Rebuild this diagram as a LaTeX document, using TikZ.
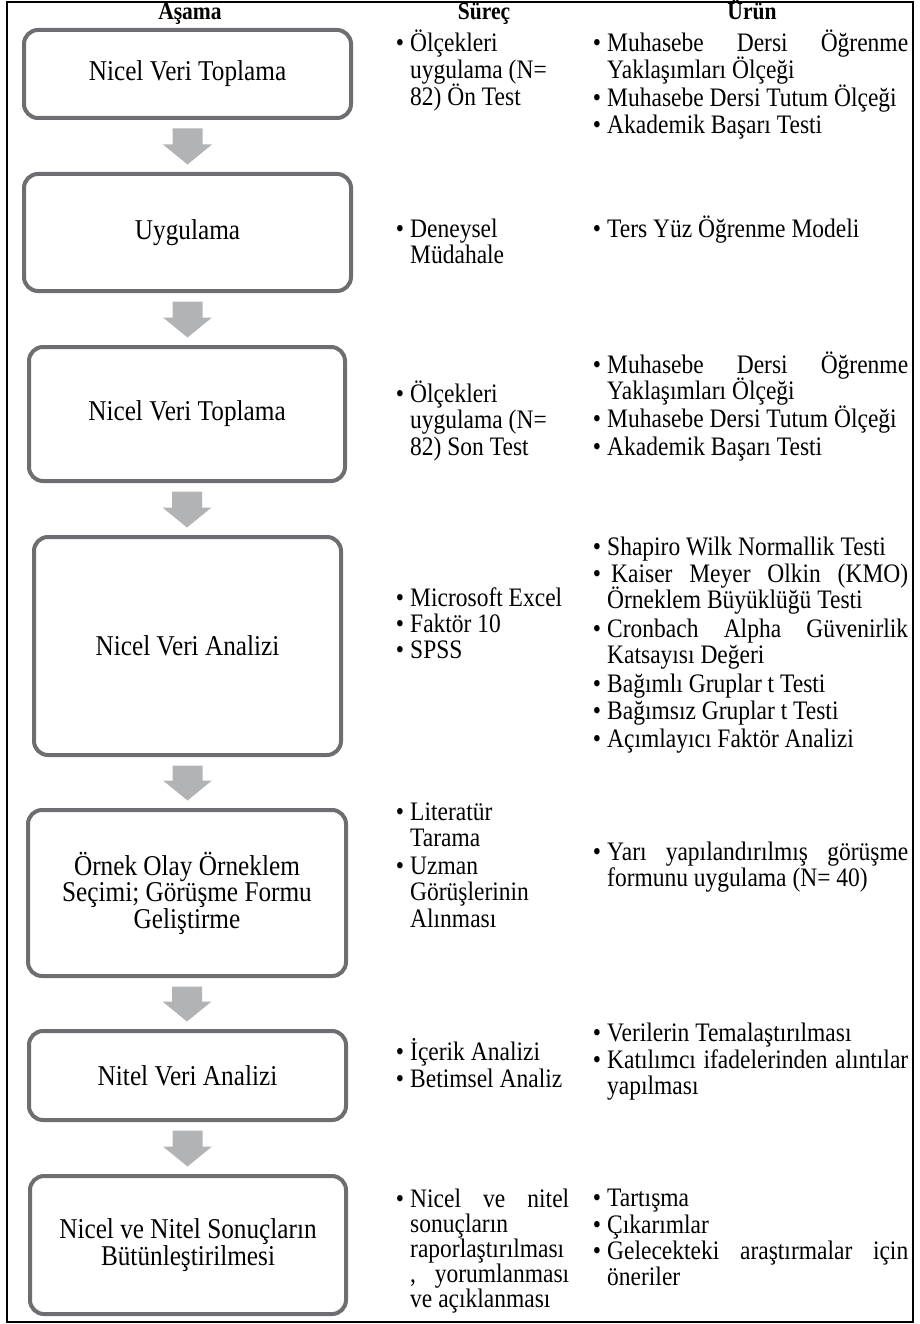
\documentclass[tikz,border=0pt]{standalone}
\usepackage{fontspec}
\setmainfont[FakeStretch=0.88]{Liberation Serif}
\usetikzlibrary{calc}
\definecolor{boxgray}{HTML}{6D6E71}
\definecolor{arrowgray}{HTML}{B2B3B5}
\newcommand{\lns}[1]{\vtop{\lineskiplimit=-100pt\lineskip=0pt\halign{##\hfil\cr#1\crcr}}}
\newcommand{\bul}{\llap{\textbullet\kern6pt}}
\newcommand{\jla}[1]{\makebox[159pt][s]{#1}}
\newcommand{\jlb}[1]{\makebox[301pt][s]{#1}}
\newcommand{\blockarrow}[2]{%
  \path[fill=arrowgray] let \p1=(#1.south), \p2=(#2.north) in
    (\x1-15pt,\y1-8.5pt) -- (\x1+15pt,\y1-8.5pt) -- (\x1+15pt,\y2+27.5pt)
    -- (\x1+24.5pt,\y2+27.5pt) -- (\x1,\y2+7.5pt) -- (\x1-24.5pt,\y2+27.5pt)
    -- (\x1-15pt,\y2+27.5pt) -- cycle;}
\tikzset{
  stagebox/.style={draw=boxgray, line width=4pt, rounded corners=14pt, fill=white,
    inner sep=0pt, align=center, font=\fontsize{28.7}{26.5}\selectfont},
  item/.style={anchor=base west, inner sep=0pt, font=\fontsize{26.7}{26.6}\selectfont},
  hdr/.style={anchor=base, inner sep=0pt, font=\fontsize{24.5}{24}\selectfont\bfseries}
}
\begin{document}
\begin{tikzpicture}[x=1pt,y=-1pt]
\useasboundingbox (0,0) rectangle (919,1324);
\draw[line width=1.2pt] (7,2) rectangle (913,1322);
% headers
\node[hdr] (h1) at (190,20) {Aşama};
\node[hdr] (h2) at (484,20) {Süreç};
\node[hdr] (h3) at (752,20) {Ürün};
% stage boxes
\node[stagebox, minimum width=327pt, minimum height=88pt] (b1) at (187.5,74) {Nicel Veri Toplama};
\node[stagebox, minimum width=327pt, minimum height=117pt] (b2) at (187.5,232.5) {Uygulama};
\node[stagebox, minimum width=316pt, minimum height=134pt] (b3) at (187,414) {Nicel Veri Toplama};
\node[stagebox, minimum width=307pt, minimum height=218pt] (b4) at (187.5,646) {Nicel Veri Analizi};
\node[stagebox, minimum width=318pt, minimum height=166pt] (b5) at (187,893) {Örnek Olay Örneklem\\Seçimi; Görüşme Formu\\Geliştirme};
\node[stagebox, minimum width=317pt, minimum height=89pt] (b6) at (187.5,1075.5) {Nitel Veri Analizi};
\node[stagebox, minimum width=316pt, minimum height=138pt] (b7) at (188,1245) {Nicel ve Nitel Sonuçların\\Bütünleştirilmesi};
% arrows
\blockarrow{b1}{b2}
\blockarrow{b2}{b3}
\blockarrow{b3}{b4}
\blockarrow{b4}{b5}
\blockarrow{b5}{b6}
\blockarrow{b6}{b7}
% box 1
\node[item] (s1a) at (410,52) {\bul\lns{Ölçekleri\cr uygulama (N=\cr 82) Ön Test}};
\node[item] (u1a) at (607,52) {\bul\lns{\jlb{Muhasebe Dersi Öğrenme}\cr Yaklaşımları Ölçeği}};
\node[item] (u1b) at (607,107) {\bul Muhasebe Dersi Tutum Ölçeği};
\node[item] (u1c) at (607,134) {\bul Akademik Başarı Testi};
% box 2
\node[item] (s2a) at (410,237) {\bul\lns{Deneysel\cr Müdahale}};
\node[item] (u2a) at (607,237) {\bul Ters Yüz Öğrenme Modeli};
% box 3
\node[item] (s3a) at (410,402) {\bul\lns{Ölçekleri\cr uygulama (N=\cr 82) Son Test}};
\node[item] (u3a) at (607,373) {\bul\lns{\jlb{Muhasebe Dersi Öğrenme}\cr Yaklaşımları Ölçeği}};
\node[item] (u3b) at (607,427.5) {\bul Muhasebe Dersi Tutum Ölçeği};
\node[item] (u3c) at (607,455) {\bul Akademik Başarı Testi};
% box 4
\node[item] (s4a) at (410,606) {\bul Microsoft Excel};
\node[item] (s4b) at (410,632) {\bul Faktör 10};
\node[item] (s4c) at (410,658) {\bul SPSS};
\node[item] (u4a) at (607,555) {\bul Shapiro Wilk Normallik Testi};
\node[item] (u4b) at (607,582) {\bul\lns{\jlb{\hspace{4pt}Kaiser Meyer Olkin (KMO)}\cr Örneklem Büyüklüğü Testi}};
\node[item] (u4c) at (607,637) {\bul\lns{\jlb{Cronbach Alpha Güvenirlik}\cr Katsayısı Değeri}};
\node[item] (u4d) at (607,692) {\bul Bağımlı Gruplar t Testi};
\node[item] (u4e) at (607,719) {\bul Bağımsız Gruplar t Testi};
\node[item] (u4f) at (607,747) {\bul Açımlayıcı Faktör Analizi};
% box 5
\node[item] (s5a) at (410,820) {\bul\lns{Literatür\cr Tarama}};
\node[item] (s5b) at (410,874) {\bul\lns{Uzman\cr Görüşlerinin\cr Alınması}};
\node[item] (u5a) at (607,860) {\bul\lns{\jlb{Yarı yapılandırılmış görüşme}\cr formunu uygulama (N= 40)}};
% box 6
\node[item] (s6a) at (410,1060) {\bul İçerik Analizi};
\node[item] (s6b) at (410,1087) {\bul Betimsel Analiz};
\node[item] (u6a) at (607,1041) {\bul Verilerin Temalaştırılması};
\node[item] (u6b) at (607,1068) {\bul\lns{\jlb{Katılımcı ifadelerinden alıntılar}\cr yapılması}};
% box 7
\node[item, font=\fontsize{26.7}{25.2}\selectfont] (s7a) at (410,1207) {\bul\lns{\jla{Nicel ve nitel}\cr sonuçların\cr raporlaştırılması\cr \jla{, yorumlanması}\cr ve açıklanması}};
\node[item] (u7a) at (607,1206) {\bul Tartışma};
\node[item] (u7b) at (607,1233) {\bul Çıkarımlar};
\node[item] (u7c) at (607,1259) {\bul\lns{\jlb{Gelecekteki araştırmalar için}\cr öneriler}};
\end{tikzpicture}
\end{document}
